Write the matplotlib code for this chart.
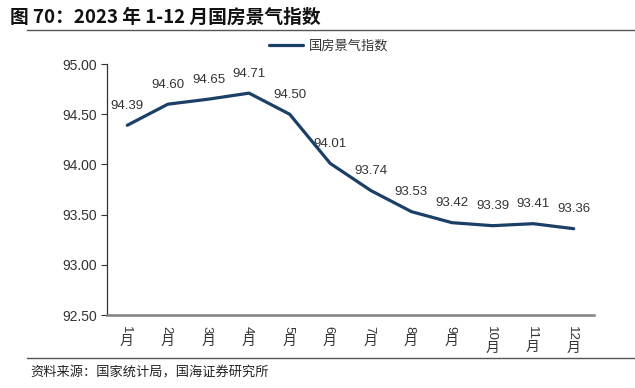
import matplotlib
matplotlib.use("Agg")
import matplotlib.pyplot as plt
import matplotlib.transforms as mtransforms

plt.rcParams['font.family'] = ['Noto Sans CJK SC', 'DejaVu Sans']

months = ["1", "2", "3", "4", "5", "6", "7", "8", "9", "10", "11", "12"]
index_vals = [94.39, 94.60, 94.65, 94.71, 94.50, 94.01, 93.74, 93.53, 93.42, 93.39, 93.41, 93.36]
series_name = "国房景气指数"
title = "图 70：2023 年 1-12 月国房景气指数"
source = "资料来源：国家统计局，国海证券研究所"

navy = "#1B3F66"
latin = ['Liberation Sans', 'DejaVu Sans']

fig = plt.figure(figsize=(6.35, 3.88), dpi=100)
ax = fig.add_axes([0.1685, 0.188, 0.767, 0.647])

x = list(range(len(months)))
ax.plot(x, index_vals, color=navy, lw=2.3, solid_capstyle='round', label=series_name)

for xi, v in zip(x, index_vals):
    ax.annotate(f"{v:.2f}", (xi, v), xytext=(0, 14), textcoords='offset points',
                ha='center', va='center', fontsize=9.5, color='#333333', family=latin)

ax.set_xlim(-0.5, len(months) - 0.5)
ax.set_ylim(92.5, 95.0)
ax.set_yticks([92.5, 93.0, 93.5, 94.0, 94.5, 95.0])
ax.set_yticklabels([f"{t:.2f}" for t in ax.get_yticks()], family=latin,
                   fontsize=10, color='#333333')
ax.tick_params(axis='y', direction='out', length=4, width=0.8, color='#333333', pad=3)
ax.set_xticks(x)
ax.set_xticklabels([])
ax.tick_params(axis='x', length=0)

for s in ['top', 'right']:
    ax.spines[s].set_visible(False)
ax.spines['left'].set_color('#333333')
ax.spines['left'].set_linewidth(0.9)
ax.spines['bottom'].set_color('#808080')
ax.spines['bottom'].set_linewidth(1.8)

# vertical month labels: digits rotated, 月 upright
trans = mtransforms.blended_transform_factory(ax.transData, ax.transAxes)
for xi, m in zip(x, months):
    num = ax.annotate(m, (xi, 0), xycoords=trans, xytext=(-1.2, -8), textcoords='offset points',
                      rotation=270, ha='center', va='top', fontsize=9.5, color='#333333',
                      family=latin)
    ax.annotate("月", xy=(0.5, 0), xycoords=num, xytext=(0.9, 0), textcoords='offset points',
                ha='center', va='top', fontsize=10, color='#333333')

leg = ax.legend(loc='upper center', bbox_to_anchor=(0.455, 1.145), frameon=False, fontsize=9.5,
                handlelength=2.6, handletextpad=0.4)
for t in leg.get_texts():
    t.set_color('#333333')

fig.text(0.016, 0.955, title, fontsize=13.5, fontweight='bold', ha='left', va='center', color='#111111')
fig.add_artist(plt.Line2D([0.043, 1.0], [0.922, 0.922], color='#555555', lw=1.0))
fig.add_artist(plt.Line2D([0.043, 1.0], [0.077, 0.077], color='#555555', lw=1.0))
fig.text(0.048, 0.038, source, fontsize=9.5, ha='left', va='center', color='#222222')

fig.savefig("out.png", dpi=100)
